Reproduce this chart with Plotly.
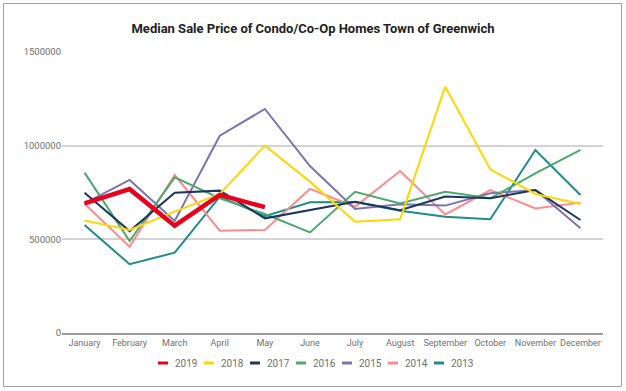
import plotly.graph_objects as go

months = ["January", "February", "March", "April", "May", "June", "July",
          "August", "September", "October", "November", "December"]

s2019 = [692000, 768000, 573000, 737000, 672000]
s2018 = [600000, 550000, 648000, 742000, 1000000, 808000, 594000, 607000, 1315000, 874000, 742000, 689000]
s2017 = [749000, 544000, 749000, 760000, 612000, 656000, 701000, 656000, 728000, 719000, 763000, 603000]
s2016 = [856000, 491000, 831000, 719000, 635000, 537000, 754000, 692000, 754000, 719000, 852000, 977000]
s2015 = [692000, 817000, 598000, 1053000, 1196000, 891000, 662000, 687000, 680000, 746000, 763000, 559000]
s2014 = [690000, 461000, 843000, 546000, 550000, 769000, 674000, 865000, 633000, 763000, 665000, 696000]
s2013 = [576000, 367000, 429000, 728000, 624000, 698000, 699000, 653000, 621000, 607000, 977000, 737000]

years = ["2019", "2018", "2017", "2016", "2015", "2014", "2013"]
series = [s2019, s2018, s2017, s2016, s2015, s2014, s2013]
colors = ["#e8001c", "#ffd600", "#1b365f", "#4aa96c", "#7a74b0", "#ff8a8e", "#1e8c87"]
widths = [4.5, 2, 2, 2, 2, 2, 2]

W, H = 626, 391
L, R, T, B = 62, 23, 52, 58
pw, ph = W - L - R, H - T - B

def px(x):
    return (x - L) / pw

def py(y):
    return (H - B - y) / ph

fig = go.Figure()
# draw older years first so 2019 sits on top
for name, vals, c, w in reversed(list(zip(years, series, colors, widths))):
    fig.add_trace(go.Scatter(x=months[:len(vals)], y=vals, mode="lines", name=name,
                             line=dict(color=c, width=w), showlegend=False))

shapes = [dict(type="rect", xref="paper", yref="paper",
               x0=px(3.5), x1=px(621.5), y0=py(386.5), y1=py(3.5),
               line=dict(color="#a0a0a0", width=1), fillcolor="rgba(0,0,0,0)", layer="below")]
annotations = []
for i, (name, c) in enumerate(zip(years, colors)):
    x0 = 158 + i * 46
    shapes.append(dict(type="line", xref="paper", yref="paper",
                       x0=px(x0), x1=px(x0 + 10), y0=py(363), y1=py(363),
                       line=dict(color=c, width=3)))
    annotations.append(dict(text=name, xref="paper", yref="paper",
                            x=px(x0 + 15), y=py(363), xanchor="left", yanchor="middle",
                            showarrow=False, font=dict(family="Roboto", size=10, color="#6f6f6f")))

fig.update_layout(
    width=W, height=H,
    margin=dict(l=L, r=R, t=T, b=B, autoexpand=False),
    paper_bgcolor="white", plot_bgcolor="white",
    title=dict(text="<b>Median Sale Price of Condo/Co-Op Homes Town of Greenwich</b>",
               x=0.5, xref="container", y=1 - 28 / H, yref="container",
               xanchor="center", yanchor="middle",
               font=dict(family="Roboto", size=13, color="#222222")),
    font=dict(family="Roboto", size=10, color="#6f6f6f"),
    showlegend=False,
    shapes=shapes,
    annotations=annotations,
)
fig.update_xaxes(type="category", showgrid=False, showline=True, linecolor="#9a9a9a",
                 linewidth=1.5, ticks="", tickangle=0, automargin=False,
                 tickfont=dict(size=9, color="#6f6f6f"),
                 range=[-0.5, 11.5])
fig.update_yaxes(range=[0, 1500000], dtick=500000, tickformat="d", showgrid=True,
                 gridcolor="#d3d3d3", gridwidth=1.5, zeroline=False, showline=False,
                 automargin=False, ticks="", tickfont=dict(size=9.5, color="#6f6f6f"))

fig.write_html("out.html", config={"displayModeBar": False},
               post_script="document.body.style.margin='0';document.body.style.overflow='hidden';")
